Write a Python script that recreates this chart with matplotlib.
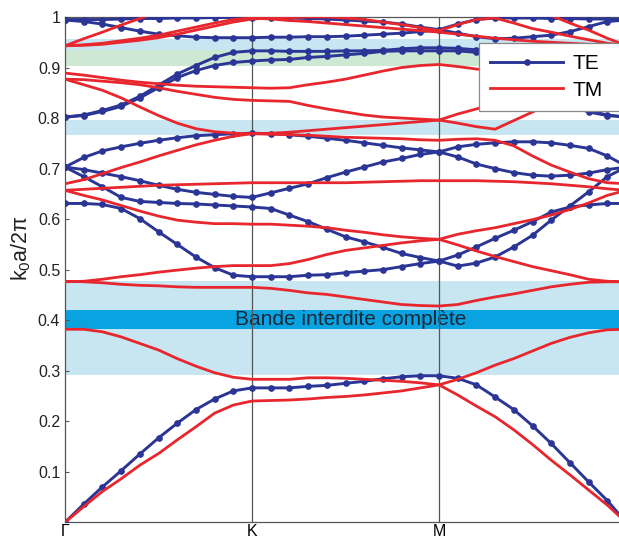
import numpy as np
import matplotlib
matplotlib.use('Agg')
import matplotlib.pyplot as plt

plt.rcParams['font.family'] = ['Liberation Sans', 'DejaVu Sans']
plt.rcParams['mathtext.fontset'] = 'custom'
plt.rcParams['mathtext.rm'] = 'Liberation Sans'
plt.rcParams['mathtext.it'] = 'Liberation Sans:italic'

# path G-K-M-G, 10 steps per segment
k = np.arange(31) / 10.0
k_ticks = [0, 1, 2]
k_labels = ['Γ', 'K', 'M']
y_ticks = [0.1, 0.2, 0.3, 0.4, 0.5, 0.6, 0.7, 0.8, 0.9, 1.0]
y_labels = ['0.1', '0.2', '0.3', '0.4', '0.5', '0.6', '0.7', '0.8', '0.9', '1']
nan = np.nan

# TE bands
te1 = [0.000, 0.036, 0.070, 0.102, 0.135, 0.167, 0.196, 0.223, 0.244, 0.260, 0.266,
       0.266, 0.266, 0.269, 0.271, 0.275, 0.279, 0.284, 0.288, 0.290, 0.290,
       0.285, 0.272, 0.248, 0.223, 0.191, 0.156, 0.118, 0.080, 0.043, 0.000]
te2 = [0.631, 0.631, 0.629, 0.621, 0.601, 0.575, 0.550, 0.525, 0.504, 0.489, 0.486,
       0.486, 0.486, 0.489, 0.490, 0.494, 0.497, 0.500, 0.506, 0.512, 0.517,
       0.507, 0.513, 0.525, 0.545, 0.568, 0.598, 0.626, 0.654, 0.684, 0.703]
te3 = [0.703, 0.684, 0.664, 0.643, 0.635, 0.633, 0.631, 0.630, 0.628, 0.626, 0.624,
       0.621, 0.608, 0.595, 0.580, 0.565, 0.555, 0.544, 0.532, 0.524, 0.517,
       0.529, 0.545, 0.562, 0.578, 0.595, 0.614, 0.624, 0.628, 0.631, 0.631]
te4 = [0.703, 0.698, 0.691, 0.684, 0.676, 0.667, 0.659, 0.653, 0.649, 0.645, 0.643,
       0.652, 0.661, 0.670, 0.682, 0.693, 0.703, 0.713, 0.720, 0.728, 0.733,
       0.743, 0.748, 0.751, 0.753, 0.753, 0.751, 0.746, 0.740, 0.725, 0.705]
te5 = [0.703, 0.722, 0.735, 0.743, 0.750, 0.756, 0.761, 0.765, 0.767, 0.769, 0.770,
       0.769, 0.767, 0.764, 0.760, 0.756, 0.751, 0.746, 0.741, 0.737, 0.733,
       0.723, 0.709, 0.700, 0.692, 0.687, 0.685, 0.687, 0.691, 0.698, 0.703]
te6 = [0.802, 0.806, 0.815, 0.826, 0.843, 0.865, 0.887, 0.904, 0.920, 0.930, 0.933,
       0.933, 0.932, 0.932, 0.932, 0.933, 0.933, 0.934, 0.937, 0.939, 0.939,
       0.938, 0.935, 0.920, 0.900, 0.875, 0.850, 0.830, 0.815, 0.806, 0.802]
te7 = [0.802, 0.805, 0.813, 0.823, 0.840, 0.860, 0.880, 0.894, 0.904, 0.910, 0.913,
       0.915, 0.916, 0.920, 0.922, 0.925, 0.928, 0.932, 0.933, 0.933, 0.933,
       0.933, 0.930, 0.915, 0.895, 0.870, 0.845, 0.825, 0.812, 0.805, 0.802]
te8 = [0.994, 0.991, 0.986, 0.979, 0.972, 0.966, 0.963, 0.960, 0.959, 0.959, 0.959,
       0.960, 0.960, 0.961, 0.961, 0.962, 0.964, 0.966, 0.968, 0.971, 0.975,
       0.968, 0.961, 0.957, 0.958, 0.961, 0.964, 0.971, 0.981, 0.991, 0.994]
te9 = [0.995, 0.995, 0.995, 0.996, 0.997, 0.997, 0.998, 0.998, 0.999, 0.999, 0.999,
       0.999, 0.998, 0.997, 0.996, 0.994, 0.992, 0.990, 0.986, 0.980, 0.975,
       0.986, 0.995, 0.998, 0.998, 0.998, 0.997, 0.997, 0.996, 0.996, 0.995]

# TM bands
tm1 = [0.000, 0.031, 0.061, 0.086, 0.113, 0.136, 0.163, 0.189, 0.216, 0.232, 0.240,
       0.241, 0.242, 0.244, 0.247, 0.249, 0.252, 0.256, 0.260, 0.266, 0.272,
       0.252, 0.230, 0.209, 0.183, 0.154, 0.123, 0.094, 0.064, 0.034, 0.000]
tm2 = [0.382, 0.382, 0.377, 0.367, 0.354, 0.341, 0.324, 0.309, 0.296, 0.287, 0.283,
       0.283, 0.283, 0.286, 0.286, 0.285, 0.283, 0.281, 0.279, 0.276, 0.272,
       0.283, 0.296, 0.311, 0.324, 0.339, 0.354, 0.366, 0.375, 0.381, 0.382]
tm3 = [0.477, 0.476, 0.474, 0.471, 0.469, 0.468, 0.466, 0.465, 0.465, 0.465, 0.465,
       0.463, 0.459, 0.454, 0.451, 0.446, 0.441, 0.436, 0.431, 0.429, 0.428,
       0.431, 0.439, 0.446, 0.452, 0.459, 0.466, 0.471, 0.475, 0.476, 0.476]
tm4 = [0.476, 0.477, 0.481, 0.486, 0.490, 0.495, 0.499, 0.503, 0.506, 0.508, 0.508,
       0.508, 0.512, 0.520, 0.530, 0.538, 0.543, 0.548, 0.553, 0.557, 0.560,
       0.549, 0.537, 0.526, 0.516, 0.506, 0.498, 0.490, 0.481, 0.477, 0.476]
tm5 = [0.657, 0.647, 0.638, 0.627, 0.616, 0.606, 0.598, 0.594, 0.591, 0.591, 0.590,
       0.590, 0.588, 0.586, 0.583, 0.578, 0.574, 0.569, 0.565, 0.562, 0.560,
       0.570, 0.577, 0.583, 0.591, 0.599, 0.608, 0.619, 0.632, 0.647, 0.657]
tm6 = [0.657, 0.659, 0.661, 0.663, 0.665, 0.667, 0.668, 0.669, 0.670, 0.671, 0.672,
       0.672, 0.672, 0.672, 0.672, 0.672, 0.673, 0.674, 0.675, 0.676, 0.676,
       0.676, 0.676, 0.675, 0.674, 0.672, 0.670, 0.667, 0.664, 0.660, 0.657]
tm7 = [0.670, 0.678, 0.690, 0.702, 0.713, 0.725, 0.736, 0.747, 0.756, 0.764, 0.769,
       0.768, 0.767, 0.766, 0.764, 0.762, 0.761, 0.760, 0.759, 0.757, 0.756,
       0.758, 0.759, 0.756, 0.745, 0.725, 0.707, 0.693, 0.680, 0.672, 0.670]
tm8 = [0.877, 0.866, 0.855, 0.840, 0.822, 0.805, 0.790, 0.779, 0.773, 0.770, 0.769,
       0.770, 0.772, 0.775, 0.778, 0.781, 0.784, 0.787, 0.790, 0.793, 0.796,
       0.808, 0.818, 0.830, 0.845, 0.860, 0.870, 0.878, 0.884, 0.888, 0.889]
tm9 = [0.877, 0.876, 0.873, 0.870, 0.866, 0.860, 0.853, 0.847, 0.841, 0.837, 0.835,
       0.834, 0.833, 0.825, 0.818, 0.812, 0.806, 0.802, 0.800, 0.798, 0.796,
       0.790, 0.783, 0.778, 0.795, 0.812, 0.830, 0.850, 0.865, 0.873, 0.877]
tm10 = [0.889, 0.885, 0.880, 0.875, 0.871, 0.868, 0.865, 0.863, 0.862, 0.861, 0.860,
        0.859, 0.860, 0.866, 0.871, 0.877, 0.885, 0.893, 0.900, 0.904, 0.906,
        0.902, 0.897, 0.893, 0.890, 0.887, 0.884, 0.880, 0.878, 0.877, 0.877]
tm11 = [0.943, 0.957, 0.970, 0.984, 0.997, 1.011, nan, nan, nan, nan, nan,
        nan, nan, nan, nan, nan, nan, nan, nan, nan, nan,
        nan, nan, nan, nan, nan, 1.003, 0.988, 0.974, 0.958, 0.944]
tm12 = [0.943, 0.944, 0.946, 0.950, 0.954, 0.959, 0.966, 0.974, 0.982, 0.990, 0.996,
        0.998, 0.999, 1.000, 1.000, 0.998, 0.995, 0.990, 0.985, 0.979, 0.973,
        0.985, 0.995, 0.998, 0.988, 0.977, 0.970, 0.962, 0.955, 0.948, 0.944]
tm13 = [0.943, 0.945, 0.948, 0.953, 0.958, 0.964, 0.972, 0.980, 0.988, 0.995, 0.998,
        0.996, 0.993, 0.991, 0.988, 0.985, 0.982, 0.979, 0.976, 0.973, 0.970,
        0.966, 0.962, 0.958, 0.955, 0.952, 0.950, 0.948, 0.946, 0.945, 0.944]

te_bands = [te1, te2, te3, te4, te5, te6, te7, te8, te9]
tm_bands = [tm1, tm2, tm3, tm4, tm5, tm6, tm7, tm8, tm9, tm10, tm11, tm12, tm13]

# shaded frequency gaps (low, high)
gap_full = (0.382, 0.420)
gaps_blue = [(0.291, 0.478), (0.767, 0.796), (0.935, 0.956)]
gap_green = (0.903, 0.935)

TE_COLOR = '#2b3595'
TM_COLOR = '#e8262d'

fig = plt.figure(figsize=(6.19, 5.42), dpi=100)
ax = fig.add_axes([65 / 619, 19.7 / 542, 561 / 619, 505.3 / 542])

for lo, hi in gaps_blue:
    ax.axhspan(lo, hi, color='#c8e5f2', lw=0, zorder=0)
ax.axhspan(*gap_green, color='#cde8d3', lw=0, zorder=0)
ax.axhspan(*gap_full, color='#0aa3e2', lw=0, zorder=0)
ax.text(1.53, sum(gap_full) / 2, 'Bande interdite complète', ha='center', va='center',
        fontsize=15, color='#1b2636', zorder=1)

for xk in k_ticks[1:]:
    ax.axvline(xk, color='#555555', lw=0.9, zorder=1)

for i, band in enumerate(te_bands):
    ax.plot(k, band, color=TE_COLOR, lw=2.1, marker='o', ms=3.8,
            label='TE' if i == 0 else None, zorder=3)
for i, band in enumerate(tm_bands):
    ax.plot(k, band, color=TM_COLOR, lw=2.0,
            label='TM' if i == 0 else None, zorder=4)

ax.set_xlim(0, 3)
ax.set_ylim(0, 1)
ax.set_xticks(k_ticks)
ax.set_xticklabels(k_labels, fontsize=11.5)
ax.set_yticks(y_ticks)
ax.set_yticklabels(y_labels, fontsize=11.5, color='#222222')
ax.tick_params(axis='x', length=0, pad=1.5)
ax.tick_params(axis='y', direction='in', length=3, width=0.8, color='#555555', pad=3.5)
for sp in ax.spines.values():
    sp.set_color('#555555')
    sp.set_linewidth(0.9)

fig.text(21 / 619, 1 - 248 / 542, 'k$_{0}$a/2π', rotation=90, ha='center', va='center',
         fontsize=15.5, color='#222222')

# legend box runs past the right edge of the figure
leg = ax.legend(loc='upper left', bbox_to_anchor=(0.738, 0.949, 0.28, 0.0), mode='expand',
                borderaxespad=0, fontsize=15, handlelength=3.5, handletextpad=0.45,
                borderpad=0.55, labelspacing=0.35, fancybox=False, framealpha=1,
                edgecolor='#888888')
leg.get_frame().set_linewidth(0.9)
leg.set_zorder(6)

fig.savefig('out.png', dpi=100)
